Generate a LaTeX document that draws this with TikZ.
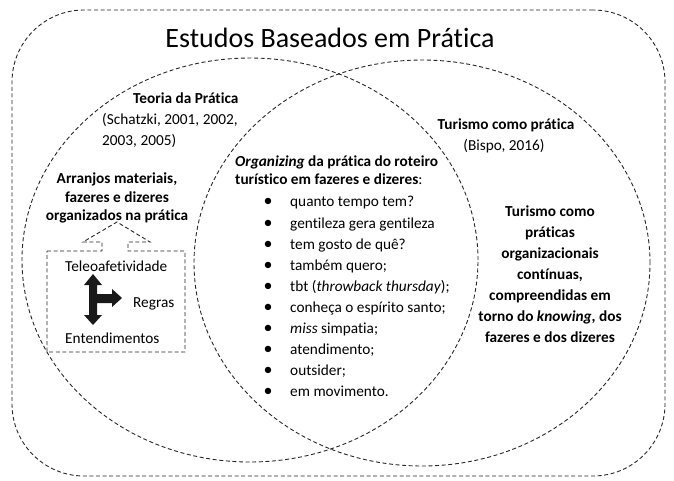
\documentclass[tikz,border=0pt]{standalone}
\usepackage{fontspec}
\setmainfont{Carlito}[Ligatures=CommonOff]
\usetikzlibrary{shapes.geometric}
\tikzset{
  dsh/.style={draw=black!85, line width=0.9pt, dash pattern=on 4pt off 2.6pt},
  txt/.style={inner sep=0pt, anchor=base, font=\fontsize{15.3}{18}\selectfont},
  txtl/.style={txt, anchor=base west},
  btxt/.style={txt, font=\fontsize{15.3}{18}\selectfont\bfseries},
  btxtl/.style={txtl, font=\fontsize{15.3}{18}\selectfont\bfseries},
}
\begin{document}
\begin{tikzpicture}[x=1pt,y=-1pt]
\useasboundingbox (0,0) rectangle (674,481);
% outer rounded rectangle
\node[dsh, rounded corners=72pt, minimum width=653pt, minimum height=466pt, inner sep=0pt] (outer) at (338.5,243) {};
% two ellipses
\node[dsh, ellipse, minimum width=456pt, minimum height=404pt, inner sep=0pt] (leftc) at (250,260) {};
\node[dsh, ellipse, minimum width=456pt, minimum height=406pt, inner sep=0pt] (rightc) at (422,263) {};
% title
\node[inner sep=0pt, anchor=base, font=\fontsize{28}{32}\selectfont] (title) at (330,48) {Estudos Baseados em Prática};
% Teoria da Pratica
\node[btxtl] (tp1) at (133,104) {Teoria da Prática};
\node[txtl] (tp2) at (102,125) {(Schatzki, 2001, 2002,};
\node[txtl] (tp3) at (102,146) {2003, 2005)};
% Turismo como pratica
\node[btxt] (tc1) at (506,130) {Turismo como prática};
\node[txt] (tc2) at (504,151) {(Bispo, 2016)};
% Arranjos
\node[btxt] (ar1) at (117,183) {Arranjos materiais,};
\node[btxt] (ar2) at (117,202) {fazeres e dizeres};
\node[btxt] (ar3) at (117,220) {organizados na prática};
% callout box
\draw[dsh] (47,251) -- (102,251) -- (102,242) -- (83,242) -- (117,222) -- (150,242) -- (128,242) -- (128,251) -- (185,251) -- (185,352) -- (47,352) -- cycle;
\node[txtl] (bx1) at (65,271) {Teleoafetividade};
\node[txtl] (bx2) at (133,307) {Regras};
\node[txtl] (bx3) at (65,343) {Entendimentos};
% black three-way arrow
\fill[black!90] (93,274) -- (102,285) -- (97,285) -- (97,294) -- (112,294) -- (112,289) -- (122,298) -- (112,307) -- (112,303) -- (97,303) -- (97,315) -- (102,315) -- (93,325) -- (84,315) -- (89,315) -- (89,285) -- (84,285) -- cycle;
% central block
\node[btxtl] (org1) at (235,167) {\textit{Organizing} da prática do roteiro};
\node[txtl] (org2) at (235,185) {\textbf{turístico em fazeres e dizeres}:};
\foreach \i/\t in {0/{quanto tempo tem?},1/{gentileza gera gentileza},2/{tem gosto de quê?},3/{também quero;},4/{tbt (\textit{throwback thursday});},5/{conheça o espírito santo;},6/{\textit{miss} simpatia;},7/{atendimento;},8/{outsider;},9/{em movimento.}}{
  \node[txt, font=\fontsize{18}{18}\selectfont] (bul\i) at (268,{207+21.1*\i}) {\textbullet};
  \node[txtl] (it\i) at (290,{207+21.1*\i}) {\t};
}
% right block
\foreach \i/\t in {0/{Turismo como},1/{práticas},2/{organizacionais},3/{contínuas,},4/{compreendidas em},5/{torno do \textit{knowing}, dos},6/{fazeres e dos dizeres}}{
  \node[btxt] (rb\i) at (550,{216+21.1*\i}) {\t};
}
\end{tikzpicture}
\end{document}
